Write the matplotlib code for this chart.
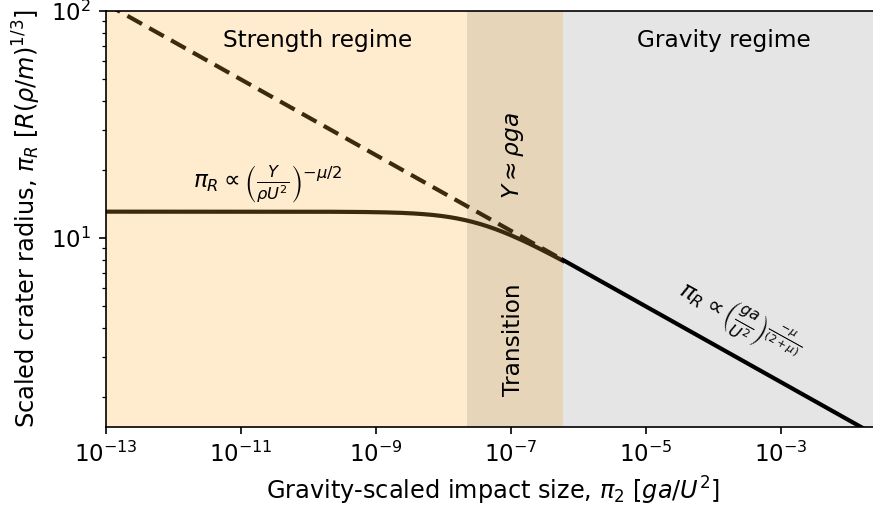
import numpy as np
import matplotlib.pyplot as plt
from matplotlib.ticker import FixedLocator, NullLocator, NullFormatter

# scaling-law parameters
mu = 0.4                 # velocity exponent
K1 = 0.734               # gravity-regime prefactor for pi_R
strength_pi3 = 3.15e-8   # pi_2 at which strength and gravity scalings meet

# regime boundaries in pi_2
x_min, x_max = 1e-13, 0.0296
transition = [2.25e-8, 5.96e-7]
y_lim = [1.47, 100]

x_ticks = [1e-13, 1e-11, 1e-9, 1e-7, 1e-5, 1e-3]

strength_color = '#ffebcd'
transition_color = '#e6d5b8'
gravity_color = '#e5e5e5'
curve_color = '#3b2a0c'

expo = mu / (2 + mu)

fig = plt.figure(figsize=(5.82, 3.42), dpi=150)
ax = fig.add_axes([0.121, 0.1676, 0.887, 0.811])
ax.set_xscale('log')
ax.set_yscale('log')

ax.axvspan(x_min, transition[0], color=strength_color, lw=0, zorder=0)
ax.axvspan(transition[0], transition[1], color=transition_color, lw=0, zorder=0)
ax.axvspan(transition[1], x_max, color=gravity_color, lw=0, zorder=0)

# pure gravity scaling, extended back into the strength regime
xs = np.logspace(np.log10(x_min), np.log10(transition[1]), 300)
ax.plot(xs, K1 * xs ** (-expo), ls='--', color=curve_color, lw=2, dashes=(4, 2))

# strength + gravity combined scaling
ax.plot(xs, K1 * (xs + strength_pi3) ** (-expo), color=curve_color, lw=2)

xg = np.logspace(np.log10(transition[1]), np.log10(x_max), 100)
ax.plot(xg, K1 * xg ** (-expo), color='black', lw=2)

ax.set_xlim(x_min, x_max)
ax.set_ylim(*y_lim)
ax.xaxis.set_major_locator(FixedLocator(x_ticks))
ax.xaxis.set_minor_locator(NullLocator())
ax.yaxis.set_minor_formatter(NullFormatter())
ax.tick_params(labelsize=11)

ax.set_xlabel(r'Gravity-scaled impact size, $\pi_2$ $[ga/U^2]$', fontsize=11.5)
ax.set_ylabel(r'Scaled crater radius, $\pi_R$ $[R(\rho/m)^{1/3}]$', fontsize=11.5)

ax.text(0.274, 0.93, 'Strength regime', transform=ax.transAxes,
        ha='center', va='center', fontsize=11.2)
ax.text(0.798, 0.93, 'Gravity regime', transform=ax.transAxes,
        ha='center', va='center', fontsize=11.2)
ax.text(1.1e-7, 23, r'$Y \approx \rho g a$', rotation=90,
        ha='center', va='center', fontsize=11.2)
ax.text(1.1e-7, 3.56, 'Transition', rotation=90,
        ha='center', va='center', fontsize=11.2)
ax.text(2.5e-11, 17.2, r'$\pi_R \propto \left(\frac{Y}{\rho U^2}\right)^{-\mu/2}$',
        ha='center', va='center', fontsize=11.2)
ax.text(2.5e-4, 4.3, r'$\pi_R \propto \left(\frac{ga}{U^2}\right)^{\frac{-\mu}{(2+\mu)}}$',
        ha='center', va='center', fontsize=11, rotation=-29)

fig.savefig('out.png', dpi=150)
